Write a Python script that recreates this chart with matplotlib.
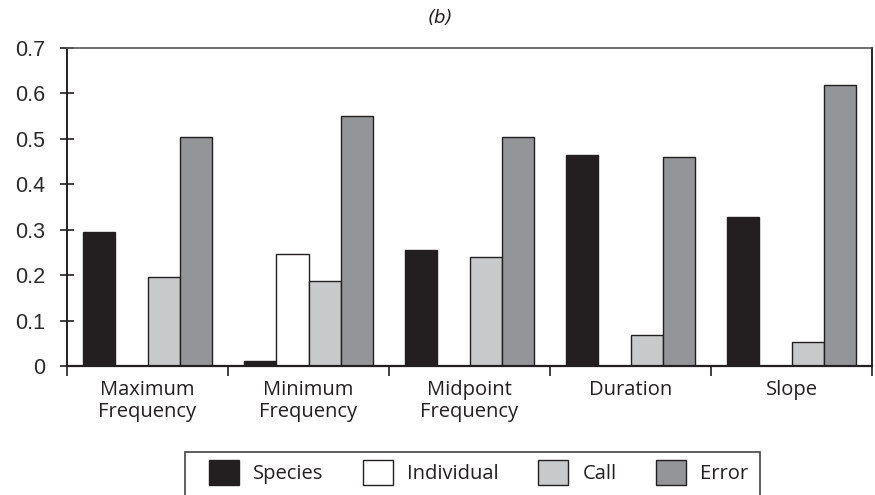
import matplotlib
matplotlib.use("Agg")
import matplotlib.pyplot as plt
from matplotlib.patches import Rectangle
import numpy as np

# values
categories = ["Maximum\nFrequency", "Minimum\nFrequency", "Midpoint\nFrequency", "Duration", "Slope"]
series_names = ["Species", "Individual", "Call", "Error"]
species = [0.296, 0.012, 0.255, 0.465, 0.327]
individual = [0.0, 0.247, 0.0, 0.0, 0.0]
call = [0.197, 0.188, 0.240, 0.068, 0.052]
error = [0.504, 0.550, 0.503, 0.461, 0.618]
y_ticks = [0, 0.1, 0.2, 0.3, 0.4, 0.5, 0.6, 0.7]
y_labels = ["0", "0.1", "0.2", "0.3", "0.4", "0.5", "0.6", "0.7"]

colors = ["#231f20", "#ffffff", "#c8c9cb", "#939598"]
edge = "#231f20"

W, H = 875, 495
fig = plt.figure(figsize=(W / 100, H / 100), dpi=100)
ax = fig.add_axes([67 / W, 1 - 366 / H, (872 - 67) / W, (366 - 48) / H])

x = np.arange(len(categories))
width = 0.2
for j, vals in enumerate([species, individual, call, error]):
    ax.bar(x + 0.1 + j * width, vals, width, align="edge", color=colors[j],
           edgecolor=edge, linewidth=1.0, label=series_names[j], zorder=2)

ax.set_xlim(0, len(categories))
ax.set_ylim(0, 0.7)

# category labels centred, separators as minor ticks on the boundaries
ax.set_xticks(x + 0.5)
ax.set_xticklabels(categories, fontfamily="Open Sans", fontsize=14.5, color="#231f20",
                   linespacing=1.15)
ax.tick_params(axis="x", which="major", length=0, pad=10)
ax.set_xticks(np.arange(len(categories) + 1), minor=True)
ax.tick_params(axis="x", which="minor", direction="out", length=7, width=1.2, color=edge)

ax.set_yticks(y_ticks)
ax.set_yticklabels(y_labels, fontfamily="Liberation Sans", fontsize=15.5, color="#2b2b2b")
ax.tick_params(axis="y", direction="inout", length=10, width=1.2, color=edge, pad=11)

ax.spines["left"].set_linewidth(1.4)
ax.spines["left"].set_color(edge)
ax.spines["bottom"].set_linewidth(1.6)
ax.spines["bottom"].set_color(edge)
ax.spines["top"].set_linewidth(1.2)
ax.spines["top"].set_color("#555555")
ax.spines["right"].set_linewidth(1.4)
ax.spines["right"].set_color(edge)

fig.text(440 / W, 1 - 18 / H, "(b)", ha="center", va="center",
         fontsize=13, style="italic", color="#231f20")

# legend box runs off the bottom of the picture, so draw the frame separately
fig.patches.append(Rectangle((185 / W, 1 - 520 / H), (760 - 185) / W, (520 - 452) / H,
                             transform=fig.transFigure, fill=False,
                             edgecolor="#444444", linewidth=1.2))
leg = fig.legend(loc="upper left", bbox_to_anchor=(209 / W, 1 - 460 / H), ncol=4,
                 prop={"family": "Open Sans", "size": 14.5}, frameon=False,
                 handlelength=1.5, handleheight=1.5,
                 columnspacing=1.95, handletextpad=0.7, borderpad=0, borderaxespad=0)
for t in leg.get_texts():
    t.set_color("#231f20")

fig.savefig("out.png", dpi=100)
